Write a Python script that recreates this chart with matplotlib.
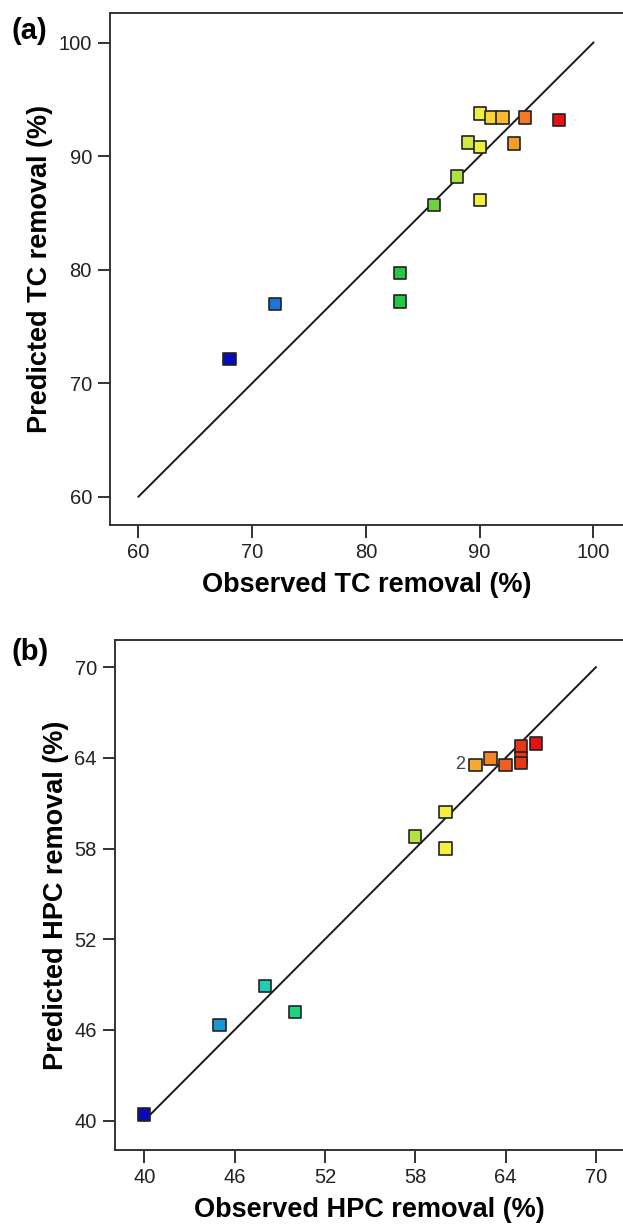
"""
Predicted vs observed removal (TC and HPC) parity plots
"""

import matplotlib
matplotlib.use('Agg')
import matplotlib.pyplot as plt
from matplotlib.colors import LinearSegmentedColormap, Normalize
import numpy as np

plt.rcParams['font.family'] = ['Liberation Sans', 'DejaVu Sans']

# (a) TC removal
tc_observed = [68, 72, 83, 83, 86, 88, 89, 90, 90, 90, 91, 92, 93, 94, 97]
tc_predicted = [72.1, 77.0, 79.7, 77.2, 85.7, 88.2, 91.2, 90.8, 86.1, 93.75, 93.4, 93.4, 91.1, 93.4, 93.2]

# (b) HPC removal
hpc_observed = [40, 45, 48, 50, 58, 60, 60, 62, 63, 64, 65, 65, 65, 66]
hpc_predicted = [40.4, 46.3, 48.9, 47.2, 58.8, 60.4, 58.0, 63.55, 63.95, 63.55, 64.75, 64.0, 63.65, 64.95]
hpc_note_index = 7   # point tagged "2"

tc_ticks = [60, 70, 80, 90, 100]
hpc_ticks = [40, 46, 52, 58, 64, 70]

# rainbow colour scale (Design-Expert like)
cmap = LinearSegmentedColormap.from_list('de', [
    (0.00, '#0a0ab8'), (0.15, '#1a80d8'), (0.25, '#18b4d8'), (0.33, '#20d8a8'),
    (0.42, '#20d066'), (0.55, '#28c438'), (0.65, '#8cd840'), (0.72, '#cce840'),
    (0.77, '#f6f040'), (0.80, '#f8d030'), (0.85, '#f8a830'), (0.91, '#f07020'),
    (1.00, '#e81010')])

fig = plt.figure(figsize=(6.23, 12.31), dpi=100)
ax1 = fig.add_axes([0.1766, 0.5735, 0.8234, 0.4159])
ax2 = fig.add_axes([0.1846, 0.0658, 0.8154, 0.4143])


def parity(ax, obs, pred, lo, hi, lims, ticks, xlabel, ylabel):
    ax.plot([lo, hi], [lo, hi], color='#1a1a1a', linewidth=1.4, zorder=1)
    norm = Normalize(min(obs), max(obs))
    ax.scatter(obs, pred, c=[cmap(norm(v)) for v in obs], marker='s', s=78,
               edgecolors='#222222', linewidths=1.2, zorder=3)
    ax.set_xlim(lims)
    ax.set_ylim(lims)
    ax.set_xticks(ticks)
    ax.set_yticks(ticks)
    ax.tick_params(direction='out', length=9, width=1.3, labelsize=14.5,
                   colors='#222222', pad=4)
    ax.spines['right'].set_visible(False)
    for s in ['left', 'top', 'bottom']:
        ax.spines[s].set_linewidth(1.4)
        ax.spines[s].set_color('#333333')
    ax.set_xlabel(xlabel, fontsize=19.5, fontweight='bold', labelpad=7)
    ax.set_ylabel(ylabel, fontsize=19.5, fontweight='bold', labelpad=4)


parity(ax1, tc_observed, tc_predicted, 60, 100, (57.5, 102.6), tc_ticks,
       'Observed TC removal (%)', 'Predicted TC removal (%)')
parity(ax2, hpc_observed, hpc_predicted, 40, 70, (38.05, 71.8), hpc_ticks,
       'Observed HPC removal (%)', 'Predicted HPC removal (%)')

ax2.annotate('2', (hpc_observed[hpc_note_index], hpc_predicted[hpc_note_index]),
             xytext=(-11, 0), textcoords='offset points', ha='center', va='center',
             fontsize=13, color='#444444')

fig.text(0.019, 0.975, '(a)', fontsize=21, fontweight='bold', ha='left', va='center')
fig.text(0.019, 0.470, '(b)', fontsize=21, fontweight='bold', ha='left', va='center')

plt.savefig('out.png', dpi=100)
